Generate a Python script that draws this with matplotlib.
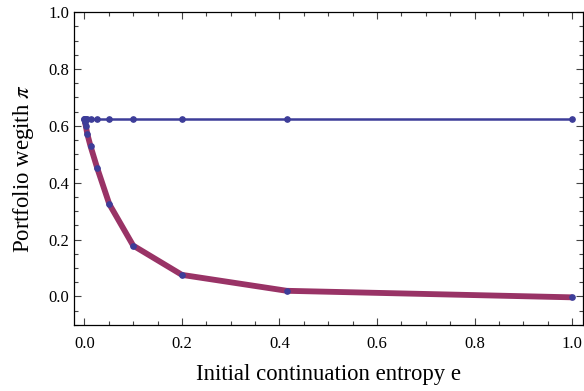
import numpy as np
import matplotlib
matplotlib.use("Agg")
import matplotlib.pyplot as plt
from matplotlib.ticker import MultipleLocator

plt.rcParams['font.family'] = ['Liberation Serif', 'DejaVu Serif']
plt.rcParams['mathtext.fontset'] = 'stix'

# data
entropy = [0.0, 0.001, 0.003, 0.006, 0.0125, 0.026, 0.051, 0.1, 0.2, 0.415, 1.0]
weight_flat = [0.625, 0.625, 0.625, 0.625, 0.625, 0.625, 0.625, 0.625, 0.625, 0.625, 0.625]
weight_drop = [0.625, 0.615, 0.598, 0.571, 0.529, 0.453, 0.325, 0.179, 0.076, 0.02, -0.003]

blue = '#3d3d99'
plum = '#993366'

fig = plt.figure(figsize=(5.84, 3.91), dpi=100)
ax = fig.add_axes([0.127, 0.169, 0.871, 0.800])

ax.plot(entropy, weight_drop, color=plum, lw=4.2, solid_capstyle='butt', zorder=2)
ax.plot(entropy, weight_drop, 'o', color=blue, ms=3.8, zorder=4)
ax.plot(entropy, weight_flat, '-o', color=blue, lw=1.8, ms=3.8, zorder=3)

ax.set_xlim(-0.021, 1.022)
ax.set_ylim(-0.1, 1.0)
ax.xaxis.set_major_locator(MultipleLocator(0.2))
ax.xaxis.set_minor_locator(MultipleLocator(0.05))
ax.yaxis.set_major_locator(MultipleLocator(0.2))
ax.yaxis.set_minor_locator(MultipleLocator(0.05))
ax.xaxis.set_major_formatter(lambda v, p: f"{v:.1f}")
ax.yaxis.set_major_formatter(lambda v, p: f"{v:.1f}")
ax.tick_params(which='both', direction='in', top=True, right=True, labelsize=12, width=0.8,
               color='#444444')
ax.tick_params(which='major', length=5)
ax.tick_params(which='minor', length=3)
ax.tick_params(axis='x', which='major', pad=8)
for s in ax.spines.values():
    s.set_linewidth(0.9)

ax.set_xlabel("Initial continuation entropy e", fontsize=16.4, labelpad=8.5)
ax.set_ylabel(r"Portfolio wegith $\pi$", fontsize=16.4, labelpad=9)

fig.savefig("out.png", dpi=100)
